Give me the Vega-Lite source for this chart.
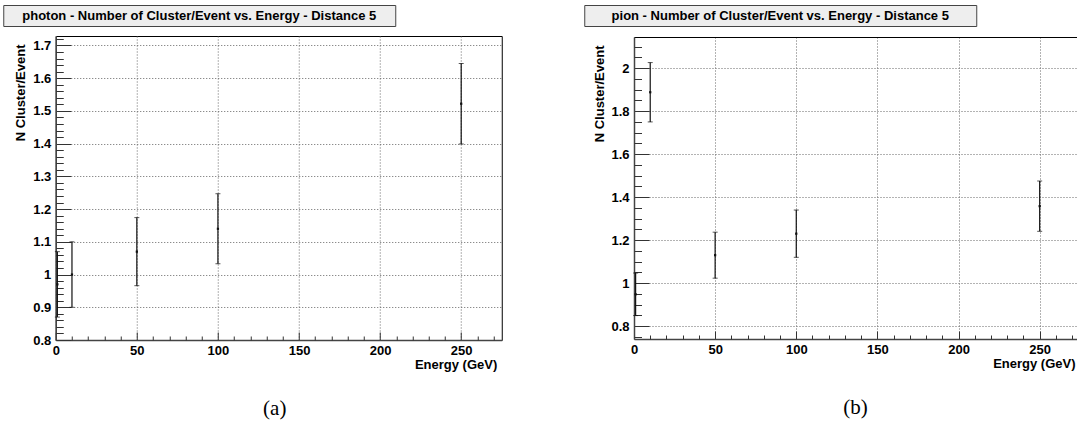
{
  "$schema": "https://vega.github.io/schema/vega-lite/v6.json",
  "padding": {"left": 2, "top": 4, "right": 0, "bottom": 0},
  "background": "white",
  "datasets": {
    "photon": [
      {"energy": 1, "n": 0.97, "err": 0.1},
      {"energy": 10, "n": 1.0, "err": 0.1},
      {"energy": 50, "n": 1.07, "err": 0.104},
      {"energy": 100, "n": 1.14, "err": 0.107},
      {"energy": 250, "n": 1.522, "err": 0.123}
    ],
    "pion": [
      {"energy": 1, "n": 0.948, "err": 0.099},
      {"energy": 10, "n": 1.888, "err": 0.138},
      {"energy": 50, "n": 1.13, "err": 0.107},
      {"energy": 100, "n": 1.23, "err": 0.11},
      {"energy": 250, "n": 1.358, "err": 0.117}
    ]
  },
  "config": {
    "font": "Liberation Sans",
    "axis": {
      "labelFont": "Liberation Sans",
      "labelFontWeight": "bold",
      "labelFontSize": 13,
      "labelColor": "#000",
      "titleFont": "Liberation Sans",
      "titleFontWeight": "bold",
      "titleFontSize": 13,
      "titleColor": "#000",
      "labelFlush": false,
      "labelOverlap": false,
      "gridColor": "#666",
      "gridDash": [1, 2],
      "gridWidth": 1,
      "gridOpacity": 1,
      "domainColor": "#444",
      "domainWidth": 1.5,
      "tickColor": "#333",
      "tickWidth": 1
    }
  },
  "spacing": 28,
  "hconcat": [
    {
      "spacing": 8,
      "center": true,
      "vconcat": [
        {
          "width": 392,
          "height": 21,
          "view": {"fill": "#eeeeee", "stroke": "#444", "strokeWidth": 1},
          "data": {"values": [{"label": "photon - Number of Cluster/Event vs. Energy - Distance 5"}]},
          "mark": {"type": "text", "font": "Liberation Sans", "fontWeight": "bold", "fontSize": 13, "color": "#000"},
          "encoding": {
            "text": {"field": "label"},
            "y": {"datum": 0.5, "type": "quantitative", "scale": {"domain": [0, 1]},
                  "axis": {"orient": "right", "offset": 159, "domain": true, "domainOpacity": 0, "ticks": false, "labels": false, "grid": false, "title": null}}
          }
        },
        {
          "width": 446,
          "height": 304,
          "data": {"name": "photon"},
          "view": {"stroke": "#000", "strokeWidth": 1},
          "title": {"text": "(a)", "orient": "bottom", "anchor": "middle", "frame": "group", "font": "Liberation Serif", "fontSize": 21, "fontWeight": "normal", "offset": 27, "dx": -4, "color": "#000"},
          "resolve": {"axis": {"x": "independent", "y": "independent"}},
          "layer": [
            {
              "mark": {"type": "point", "shape": "square", "filled": true, "size": 5, "color": "#111", "opacity": 1},
              "encoding": {
                "x": {
                  "field": "energy", "type": "quantitative",
                  "scale": {"domain": [0, 275], "nice": false, "zero": false},
                  "axis": {"orient": "bottom", "values": [0, 50, 100, 150, 200, 250], "format": "d", "tickSize": -8, "labelPadding": 12, "grid": true, "title": "Energy (GeV)", "titleX": 441, "titleY": 28, "titleAlign": "right", "titleBaseline": "alphabetic"}
                },
                "y": {
                  "field": "n", "type": "quantitative",
                  "scale": {"domain": [0.8, 1.729], "nice": false, "zero": false},
                  "axis": {"orient": "left", "values": [0.8, 0.9, 1, 1.1, 1.2, 1.3, 1.4, 1.5, 1.6, 1.7], "format": "~g", "tickSize": -15, "labelPadding": 20, "grid": true, "title": "N Cluster/Event", "titleX": -35, "titleY": 8, "titleAlign": "right", "titleBaseline": "middle", "titleAngle": -90}
                }
              }
            },
            {
              "mark": {"type": "errorbar", "color": "#111", "ticks": {"size": 5, "thickness": 1}, "thickness": 1.2},
              "encoding": {
                "x": {"field": "energy", "type": "quantitative", "axis": null},
                "y": {"field": "n", "type": "quantitative", "axis": null},
                "yError": {"field": "err"}
              }
            },
            {
              "mark": {"type": "point", "opacity": 0},
              "encoding": {
                "x": {
                  "field": "energy", "type": "quantitative",
                  "axis": {"orient": "bottom", "values": [10, 20, 30, 40, 60, 70, 80, 90, 110, 120, 130, 140, 160, 170, 180, 190, 210, 220, 230, 240, 260, 270], "tickSize": -4, "labels": false, "domain": false, "grid": false, "title": null}
                },
                "y": {
                  "field": "n", "type": "quantitative",
                  "axis": {"orient": "left", "values": [0.82, 0.84, 0.86, 0.88, 0.92, 0.94, 0.96, 0.98, 1.02, 1.04, 1.06, 1.08, 1.12, 1.14, 1.16, 1.18, 1.22, 1.24, 1.26, 1.28, 1.32, 1.34, 1.36, 1.38, 1.42, 1.44, 1.46, 1.48, 1.52, 1.54, 1.56, 1.58, 1.62, 1.64, 1.66, 1.68, 1.72], "tickSize": -7.5, "labels": false, "domain": false, "grid": false, "title": null}
                }
              }
            },
            {
              "mark": {"type": "point", "opacity": 0},
              "encoding": {
                "x": {"field": "energy", "type": "quantitative", "axis": null},
                "y": {
                  "field": "n", "type": "quantitative",
                  "axis": {"orient": "left", "offset": 52, "domain": true, "domainOpacity": 0, "ticks": false, "labels": false, "grid": false, "title": null}
                }
              }
            }
          ]
        }
      ]
    },
    {
      "spacing": 10,
      "center": true,
      "vconcat": [
        {
          "width": 392,
          "height": 21,
          "view": {"fill": "#eeeeee", "stroke": "#444", "strokeWidth": 1},
          "data": {"values": [{"label": "pion - Number of Cluster/Event vs. Energy - Distance 5"}]},
          "mark": {"type": "text", "font": "Liberation Sans", "fontWeight": "bold", "fontSize": 13, "color": "#000"},
          "encoding": {
            "text": {"field": "label"},
            "y": {"datum": 0.5, "type": "quantitative", "scale": {"domain": [0, 1]},
                  "axis": {"orient": "right", "offset": 150, "domain": true, "domainOpacity": 0, "ticks": false, "labels": false, "grid": false, "title": null}}
          }
        },
        {
          "width": 443,
          "height": 302,
          "data": {"name": "pion"},
          "view": {"stroke": null},
          "title": {"text": "(b)", "orient": "bottom", "anchor": "middle", "frame": "group", "font": "Liberation Serif", "fontSize": 21, "fontWeight": "normal", "offset": 27, "dx": 0, "color": "#000"},
          "resolve": {"axis": {"x": "independent", "y": "independent"}},
          "layer": [
            {
              "mark": {"type": "point", "shape": "square", "filled": true, "size": 5, "color": "#111", "opacity": 1},
              "encoding": {
                "x": {
                  "field": "energy", "type": "quantitative",
                  "scale": {"domain": [0, 273], "nice": false, "zero": false},
                  "axis": {"orient": "bottom", "values": [0, 50, 100, 150, 200, 250], "format": "d", "tickSize": -8, "labelPadding": 12, "grid": true, "title": "Energy (GeV)", "titleX": 441, "titleY": 28, "titleAlign": "right", "titleBaseline": "alphabetic"}
                },
                "y": {
                  "field": "n", "type": "quantitative",
                  "scale": {"domain": [0.74, 2.145], "nice": false, "zero": false},
                  "axis": {"orient": "left", "values": [0.8, 1, 1.2, 1.4, 1.6, 1.8, 2], "format": "~g", "tickSize": -15, "labelPadding": 20, "grid": true, "title": "N Cluster/Event", "titleX": -35, "titleY": 8, "titleAlign": "right", "titleBaseline": "middle", "titleAngle": -90}
                }
              }
            },
            {
              "mark": {"type": "errorbar", "color": "#111", "ticks": {"size": 5, "thickness": 1}, "thickness": 1.2},
              "encoding": {
                "x": {"field": "energy", "type": "quantitative", "axis": null},
                "y": {"field": "n", "type": "quantitative", "axis": null},
                "yError": {"field": "err"}
              }
            },
            {
              "mark": {"type": "point", "opacity": 0},
              "encoding": {
                "x": {
                  "field": "energy", "type": "quantitative",
                  "axis": {"orient": "bottom", "values": [10, 20, 30, 40, 60, 70, 80, 90, 110, 120, 130, 140, 160, 170, 180, 190, 210, 220, 230, 240, 260, 270], "tickSize": -4, "labels": false, "domain": false, "grid": false, "title": null}
                },
                "y": {
                  "field": "n", "type": "quantitative",
                  "axis": {"orient": "left", "values": [0.75, 0.85, 0.9, 0.95, 1.05, 1.1, 1.15, 1.25, 1.3, 1.35, 1.45, 1.5, 1.55, 1.65, 1.7, 1.75, 1.85, 1.9, 1.95, 2.05, 2.1], "tickSize": -7.5, "labels": false, "domain": false, "grid": false, "title": null}
                }
              }
            },
            {
              "mark": {"type": "point", "opacity": 0},
              "encoding": {
                "x": {
                  "field": "energy", "type": "quantitative",
                  "axis": {"orient": "top", "domain": true, "domainColor": "#000", "domainWidth": 1, "ticks": false, "labels": false, "grid": false, "title": null}
                },
                "y": {
                  "field": "n", "type": "quantitative",
                  "axis": {"orient": "left", "offset": 51, "domain": true, "domainOpacity": 0, "ticks": false, "labels": false, "grid": false, "title": null}
                }
              }
            }
          ]
        }
      ]
    }
  ]
}
